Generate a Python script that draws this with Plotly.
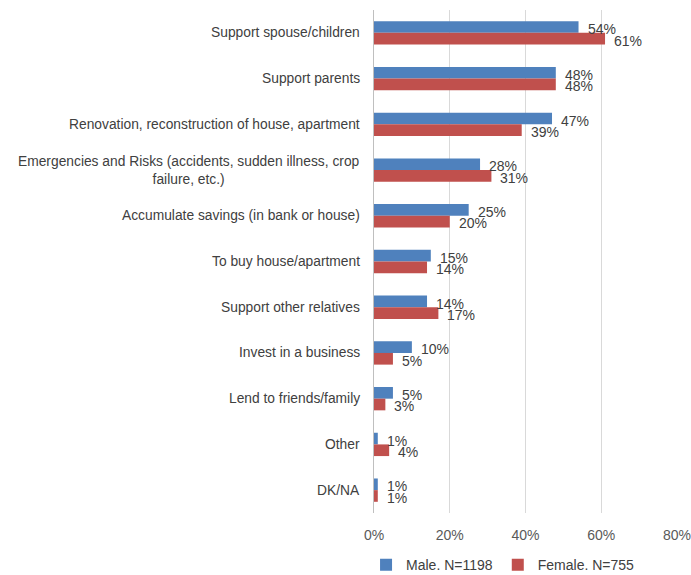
import plotly.graph_objects as go

# Categories (top to bottom) and shares by gender, in percent
categories = [
    "Support spouse/children",
    "Support parents",
    "Renovation, reconstruction of house, apartment",
    "Emergencies and Risks (accidents, sudden illness, crop<br>failure, etc.)",
    "Accumulate savings (in bank or house)",
    "To buy house/apartment",
    "Support other relatives",
    "Invest in a business",
    "Lend to friends/family",
    "Other",
    "DK/NA",
]
male = [54, 48, 47, 28, 25, 15, 14, 10, 5, 1, 1]
female = [61, 48, 39, 31, 20, 14, 17, 5, 3, 4, 1]
x_ticks = [0, 20, 40, 60, 80]

FONT = "Liberation Sans, Arial, sans-serif"
TEXT = "#404040"
SERIES = [
    ("Male. N=1198", male, "#4F81BD", -0.125),
    ("Female. N=755", female, "#C0504D", 0.125),
]

fig = go.Figure()
for name, vals, color, _ in SERIES:
    fig.add_trace(go.Bar(
        y=list(range(len(categories))), x=vals, orientation="h", name=name,
        marker=dict(color=color, line=dict(width=0)),
    ))

# Value labels just past each bar end
for name, vals, color, off in SERIES:
    for i, v in enumerate(vals):
        fig.add_annotation(
            x=v, y=i + off, xref="x", yref="y",
            xanchor="left", yanchor="middle", xshift=7, yshift=-2,
            text=f"{v}%", showarrow=False,
            font=dict(family=FONT, size=14, color=TEXT),
        )

# Category labels drawn as annotations so wrapped lines stay centred
for i, c in enumerate(categories):
    fig.add_annotation(
        xref="paper", x=0, xanchor="right", xshift=-12,
        yref="y", y=i, yanchor="middle",
        text=c, showarrow=False, align="center",
        font=dict(family=FONT, size=13.8, color=TEXT),
    )

fig.update_layout(
    width=691, height=575,
    margin=dict(l=374, r=14, t=10, b=62, autoexpand=False),
    paper_bgcolor="white", plot_bgcolor="white",
    barmode="group", bargap=0.49, bargroupgap=0,
    font=dict(family=FONT, size=14, color=TEXT),
    xaxis=dict(
        range=[0, 80], tickvals=x_ticks, ticktext=[f"{t}%" for t in x_ticks],
        showgrid=True, gridcolor="#D9D9D9", gridwidth=1,
        zeroline=False, showline=False, ticks="",
        ticklabelstandoff=12, ticklabeloverflow="allow",
        tickfont=dict(family=FONT, size=14, color="#595959"),
    ),
    yaxis=dict(
        range=[len(categories) - 0.5, -0.5], showticklabels=False, ticks="",
        showgrid=False, zeroline=False,
        showline=True, linecolor="#BFBFBF", linewidth=1,
    ),
    legend=dict(
        orientation="h", xref="container", yref="container",
        x=0.728, xanchor="center", y=0.017, yanchor="middle",
        font=dict(family=FONT, size=14, color=TEXT),
        traceorder="normal", itemwidth=30,
    ),
    showlegend=True,
)

fig.write_html("out.html")
